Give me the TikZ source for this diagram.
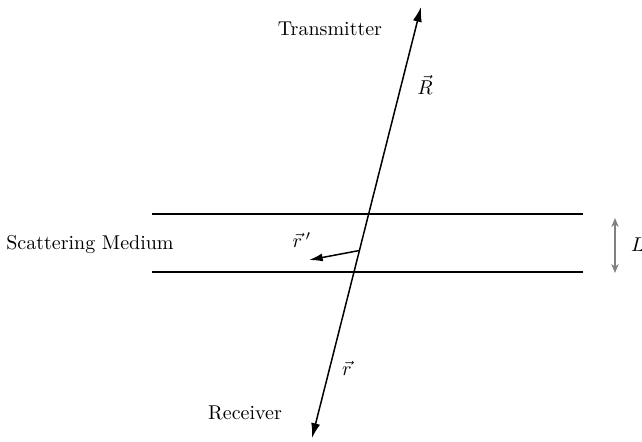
\documentclass[tikz,border=0pt]{standalone}
\usepackage{amsmath}
\usepackage{xcolor}
\usepackage{tikz}
\usetikzlibrary{arrows.meta,positioning,calc}

\begin{document}
\begin{tikzpicture}[
    x=0.5pt, y=-0.5pt,
    font=\normalsize,
    slab/.style={line width=1pt},
    ray/.style={{Latex[length=2.6mm,width=1.6mm]}-{Latex[length=2.6mm,width=1.6mm]}, line width=0.75pt},
    vec/.style={-{Latex[length=2.4mm,width=1.4mm]}, line width=0.75pt},
    dim/.style={{Stealth[length=1.6mm,width=1.3mm]}-{Stealth[length=1.6mm,width=1.3mm]}, line width=0.6pt, gray},
    lab/.style={inner sep=1pt}
]
\useasboundingbox (0,0) rectangle (642,442);
% slab boundaries
\coordinate (tl) at (152,214);
\coordinate (tr) at (583,214);
\coordinate (bl) at (152,272);
\coordinate (br) at (583,272);
\draw[slab] (tl) -- (tr);
\draw[slab] (bl) -- (br);
% transmitter/receiver ray
\coordinate (tx) at (421,7);
\coordinate (rx) at (312,438);
\draw[ray] (rx) -- (tx);
% scattering point
\coordinate (sp) at ($(rx)!0.435!(tx)$);
\coordinate (rp) at (309,260);
\draw[vec] (sp) -- (rp);
% thickness
\coordinate (Ltop) at (615,218);
\coordinate (Lbot) at (615,273);
\draw[dim] (Lbot) -- (Ltop);
% labels
\node[lab] (trans) at (330,29) {Transmitter};
\node[lab] (recv) at (245,413) {Receiver};
\node[lab] (med) at (90,245) {Scattering Medium};
\node[lab] (R) at (425,85) {$\vec{R}$};
\node[lab] (r) at (347,368) {$\vec{r}$};
\node[lab] (rprime) at (302,240) {$\vec{r}\,'$};
\node[lab] (L) at (638,245) {$L$};
\end{tikzpicture}
\end{document}
